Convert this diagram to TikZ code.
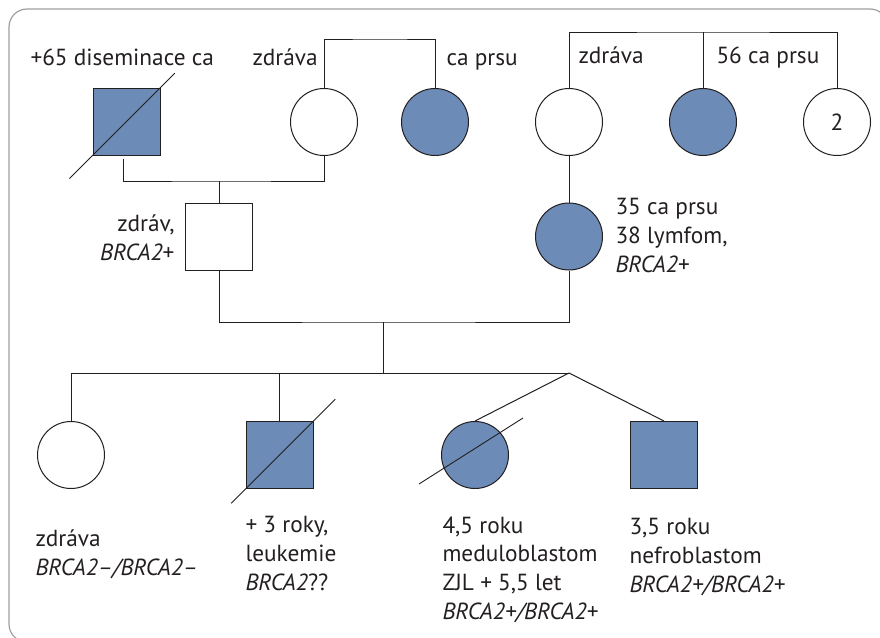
\documentclass[tikz,border=0pt]{standalone}
\usepackage{fontspec}
\setmainfont{PT Sans}
\usetikzlibrary{calc}
\definecolor{pblue}{RGB}{109,139,183}
\definecolor{pline}{RGB}{35,31,32}
\definecolor{pframe}{RGB}{160,160,160}
\begin{document}
\begin{tikzpicture}[x=1pt,y=-1pt,
  line width=1pt,color=pline,
  male/.style={rectangle,draw=pline,minimum size=67pt,inner sep=0pt,fill=white},
  female/.style={circle,draw=pline,minimum size=67pt,inner sep=0pt,fill=white},
  aff/.style={fill=pblue},
  lbl/.style={inner sep=0pt,font=\fontsize{23.3}{28.6}\selectfont,text=pline},
  dead/.style={line width=0.9pt}]
\useasboundingbox (0,0) rectangle (880,637);
\clip (0,0) rectangle (880,637);
\draw[draw=pframe,line width=1.2pt,rounded corners=18pt] (9,9) rectangle (888,642);

% top row
\node[male,aff] (gf) at (126.5,121.5) {};
\node[female] (gm) at (324,122) {};
\node[female,aff] (ga) at (435,122) {};
\node[female] (gmm) at (569,122) {};
\node[female,aff] (gma) at (703,122) {};
\node[female] (g2) at (837,122) {\fontsize{23.3}{26}\selectfont 2};

\coordinate (topL) at (380,39);
\coordinate (topR) at (703,32);
\coordinate (c1) at (219,181);
\coordinate (c2) at (383,322);
\coordinate (tw) at (569,373);

\draw[dead] ($(gf.south west)!-0.34!(gf.north east)$) -- ($(gf.south west)!1.21!(gf.north east)$);

\draw (gm.north) |- (topL) -| (ga.north);
\draw (gmm.north) |- (topR) -| (g2.north);
\draw (gma.north) -- (gma.north |- topR);

% middle row
\node[male] (f) at (219,236.5) {};
\node[female,aff] (m) at (569,236.5) {};

\draw ([xshift=-3.5pt,yshift=-3pt]gf.south) |- (c1) -| (gm.south);
\draw (c1) -- (f.north);
\draw (gmm.south) -- (m.north);
\draw (f.south) |- (c2) -| (m.south);
\draw (c2) -- (c2 |- tw);

% children
\node[female] (k1) at (71,455) {};
\node[male,aff] (k2) at (279.5,455) {};
\node[female,aff] (k3) at (475,455) {};
\node[male,aff] (k4) at (664,455) {};

\draw (k1.north) |- (tw);
\draw (k2.north) -- (k2.north |- tw);
\draw (tw) -- (k3.north);
\draw (tw) -- (k4.north);

\draw[dead] ($(k2.south west)!-0.21!(k2.north east)$) -- ($(k2.south west)!1.32!(k2.north east)$);
\draw[dead] ($(k3)+(-56,29)$) -- ($(k3)+(48,-37)$);

% labels (base anchor = last line baseline)
\node[lbl,anchor=base west] (t1) at (30,65) {+65 diseminace ca};
\node[lbl,anchor=base west] (t2) at (252,65) {zdráva};
\node[lbl,anchor=base west] (t3) at (446,65) {ca prsu};
\node[lbl,anchor=base west] (t4) at (578,63) {zdráva};
\node[lbl,anchor=base west] (t5) at (716,63) {56 ca prsu};
\node[lbl,anchor=base east,align=right] (t6) at (175,260) {zdráv,\\\textit{BRCA2}+};
\node[lbl,anchor=base west,align=left] (t7) at (615,272) {35 ca prsu\\38 lymfom,\\\textit{BRCA2}+};
\node[lbl,anchor=base west,align=left] (t8) at (35,575) {zdráva\\\textit{BRCA2–/BRCA2–}};
\node[lbl,anchor=base west,align=left] (t9) at (245,590) {+ 3 roky,\\leukemie\\\textit{BRCA2}??};
\node[lbl,anchor=base west,align=left] (t10) at (442,619) {4,5 roku\\meduloblastom\\ZJL + 5,5 let\\\textit{BRCA2+/BRCA2+}};
\node[lbl,anchor=base west,align=left] (t11) at (629,592) {3,5 roku\\nefroblastom\\\textit{BRCA2+/BRCA2+}};
\end{tikzpicture}
\end{document}
